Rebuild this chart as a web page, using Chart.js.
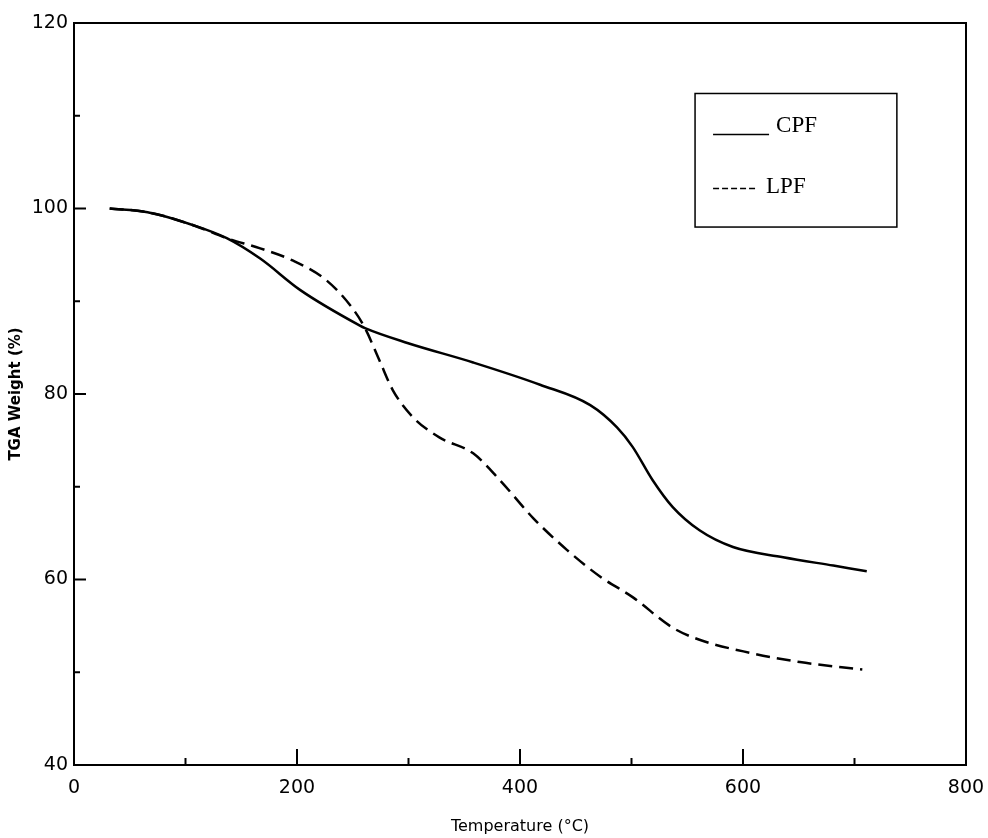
<!DOCTYPE html>
<html><head><meta charset="utf-8">
<script src="https://cdn.jsdelivr.net/npm/chart.js@4/dist/chart.umd.min.js"></script>
<style>html,body{margin:0;padding:0;background:#fff;}</style>
</head><body>
<canvas id="c" width="988" height="838"></canvas>
<script>
// ---- data ----
const cpfTemp   = [32, 66, 107, 137, 167, 203, 256, 261, 299, 358, 418, 463, 487, 501, 519, 537, 561, 591, 636, 681, 711];
const cpfWeight = [100, 99.6, 98.2, 96.8, 94.6, 91.2, 87.4, 87.1, 85.5, 83.4, 81.0, 78.8, 76.4, 74.3, 70.7, 67.8, 65.3, 63.5, 62.4, 61.5, 60.9];
const lpfTemp   = [32, 66, 107, 137, 167, 196, 227, 250, 261, 274, 286, 304, 328, 358, 382, 412, 442, 472, 501, 537, 561, 606, 651, 707];
const lpfWeight = [100, 99.6, 98.2, 96.8, 95.7, 94.4, 92.2, 89.2, 87.1, 83.6, 80.4, 77.5, 75.3, 73.6, 70.7, 66.6, 63.2, 60.3, 58.1, 54.8, 53.5, 52.1, 51.1, 50.3];
const seriesNames = ['CPF', 'LPF'];
const xTickMarks = [0, 100, 200, 300, 400, 500, 600, 700, 800];
const yTickMarks = [40, 50, 60, 70, 80, 90, 100, 110, 120];
const xTitle = 'Temperature (°C)';
const yTitle = 'TGA Weight (%)';

const toPts = (xs, ys) => xs.map((x, i) => ({x, y: ys[i]}));

const framePlugin = {
  id: 'frame',
  afterDatasetsDraw(chart) {
    const {ctx, chartArea: a, scales: {x, y}} = chart;
    ctx.save();
    ctx.strokeStyle = '#000';
    ctx.lineWidth = 2;
    ctx.strokeRect(a.left, a.top, a.right - a.left, a.bottom - a.top);
    // inward tick marks
    xTickMarks.forEach(v => {
      const px = x.getPixelForValue(v);
      const len = (v % 200 === 0) ? 16 : 7;
      ctx.beginPath(); ctx.moveTo(px, a.bottom); ctx.lineTo(px, a.bottom - len); ctx.stroke();
    });
    yTickMarks.forEach(v => {
      const py = y.getPixelForValue(v);
      const len = (v % 20 === 0) ? 12 : 6;
      ctx.beginPath(); ctx.moveTo(a.left, py); ctx.lineTo(a.left + len, py); ctx.stroke();
    });
    // legend box (placed in data coordinates)
    const bl = x.getPixelForValue(557), br = x.getPixelForValue(738);
    const bt = y.getPixelForValue(112.4), bb = y.getPixelForValue(98.0);
    ctx.lineWidth = 1.5;
    ctx.strokeRect(bl, bt, br - bl, bb - bt);
    ctx.font = '23px "Liberation Serif", "Times New Roman", serif';
    ctx.fillStyle = '#000';
    ctx.textBaseline = 'alphabetic';
    ctx.textAlign = 'left';
    ctx.setLineDash([]);
    ctx.beginPath(); ctx.moveTo(bl + 18, bt + 41); ctx.lineTo(bl + 74, bt + 41); ctx.stroke();
    ctx.fillText(seriesNames[0], bl + 81, bt + 39);
    ctx.setLineDash([6, 3]);
    ctx.beginPath(); ctx.moveTo(bl + 18, bt + 95); ctx.lineTo(bl + 62, bt + 95); ctx.stroke();
    ctx.setLineDash([]);
    ctx.fillText(seriesNames[1], bl + 71, bt + 100);
    ctx.restore();
  }
};

new Chart(document.getElementById('c'), {
  type: 'scatter',
  data: {
    datasets: [
      { label: seriesNames[0], data: toPts(cpfTemp, cpfWeight), showLine: true,
        borderColor: '#000', borderWidth: 2.5, pointRadius: 0, cubicInterpolationMode: 'monotone', fill: false },
      { label: seriesNames[1], data: toPts(lpfTemp, lpfWeight), showLine: true,
        borderColor: '#000', borderWidth: 2.5, borderDash: [14, 7], pointRadius: 0, cubicInterpolationMode: 'monotone', fill: false }
    ]
  },
  options: {
    responsive: false,
    animation: false,
    events: [],
    layout: { padding: { top: 23, right: 22, left: 0, bottom: 0 } },
    plugins: { legend: { display: false }, tooltip: { enabled: false } },
    scales: {
      x: {
        type: 'linear', min: 0, max: 800,
        grid: { display: false, drawTicks: false },
        border: { display: false },
        ticks: { stepSize: 200, padding: 12, color: '#000', font: { family: 'DejaVu Sans', size: 19 } },
        title: { display: true, text: xTitle, color: '#000', font: { family: 'DejaVu Sans', size: 16 }, padding: { top: 0, bottom: 2 } },
        afterFit(s) { s.height = 73; s.paddingLeft = 0; s.paddingRight = 0; }
      },
      y: {
        type: 'linear', min: 40, max: 120,
        grid: { display: false, drawTicks: false },
        border: { display: false },
        ticks: { stepSize: 20, padding: 6, color: '#000', font: { family: 'DejaVu Sans', size: 19 } },
        title: { display: true, text: yTitle, color: '#000', font: { family: 'DejaVu Sans', size: 15, weight: 'bold' }, padding: { top: 7, bottom: 0 } },
        afterFit(s) { s.width = 74; s.paddingTop = 0; s.paddingBottom = 0; }
      }
    }
  },
  plugins: [framePlugin]
});
</script>
</body></html>
